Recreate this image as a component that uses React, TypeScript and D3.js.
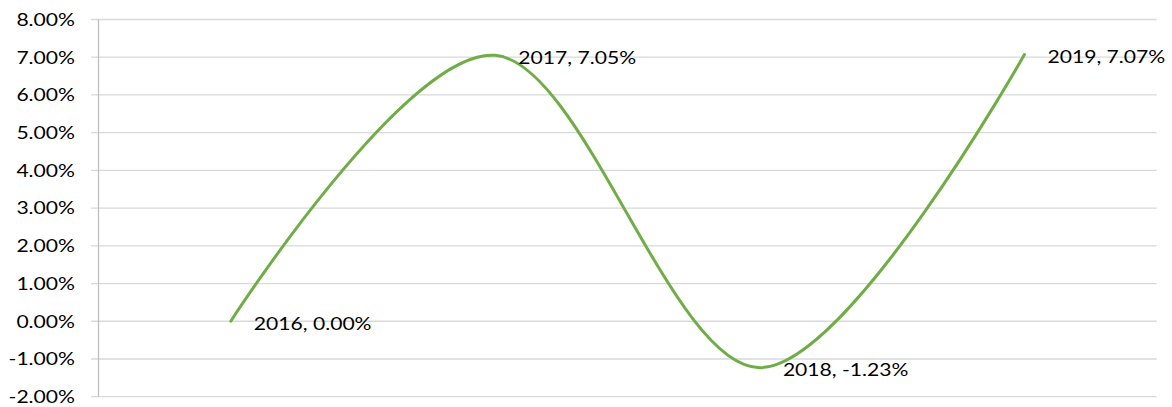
import React from "react";
import * as d3 from "d3";

const categories = ["2016", "2017", "2018", "2019"];
const values = [0.0, 7.05, -1.23, 7.07];
const yTicks = [-2, -1, 0, 1, 2, 3, 4, 5, 6, 7, 8];

const W = 1172;
const H = 407;
const left = 98.5;
const right = 1156.7;
const top = 19.5;
const bottom = 396.7;
const font = "Lato, 'Noto Sans', sans-serif";
const fs = 17.6;
const sx = 1.2;

export default function App() {
  const x = d3.scaleBand<string>().domain(categories).range([left, right]).padding(0);
  const y = d3.scaleLinear().domain([-2, 8]).range([bottom, top]);
  const cx = (c: string) => (x(c) as number) + x.bandwidth() / 2;
  const line = d3
    .line<number>()
    .x((_, i) => cx(categories[i]))
    .y((d) => y(d))
    .curve(d3.curveCardinal.tension(0));
  const path = line(values) || "";
  return (
    <svg
      width={W}
      height={H}
      style={{ position: "absolute", left: 0, top: 0, background: "#fff" }}
    >
      {yTicks.map((t) => (
        <g key={t}>
          <line x1={91} x2={right} y1={y(t)} y2={y(t)} stroke="#d9d9d9" strokeWidth={1.3} />
          <g transform={`translate(75,${y(t)}) scale(${sx},1)`}>
            <text x={0} y={0} dy="0.36em" textAnchor="end" fontFamily={font} fontSize={fs} fill="#000">
              {t.toFixed(2) + "%"}
            </text>
          </g>
        </g>
      ))}
      <line x1={left} x2={left} y1={top} y2={bottom} stroke="#bfbfbf" strokeWidth={1.3} />
      <path d={path} fill="none" stroke="#70ad47" strokeWidth={3} strokeLinecap="round" />
      {values.map((v, i) => (
        <g key={i} transform={`translate(${cx(categories[i]) + 23},${y(v) + 2}) scale(${sx},1)`}>
          <text x={0} y={0} dy="0.36em" fontFamily={font} fontSize={fs} fill="#000">
            {categories[i] + ", " + v.toFixed(2) + "%"}
          </text>
        </g>
      ))}
    </svg>
  );
}
